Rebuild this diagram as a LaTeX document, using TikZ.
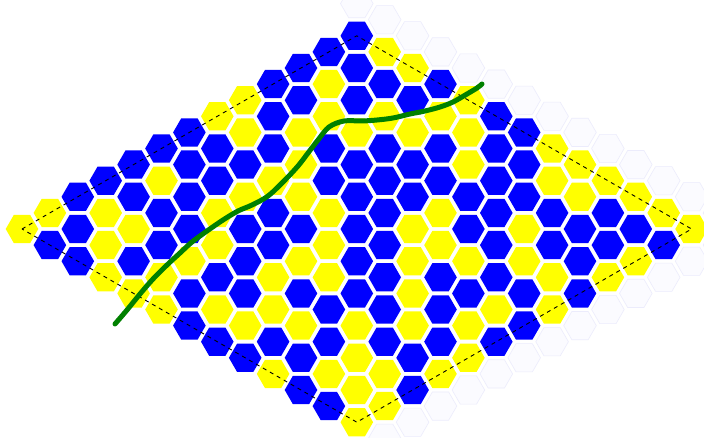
\documentclass[tikz,border=0pt]{standalone}
\usetikzlibrary{shapes.geometric}
\definecolor{Y}{RGB}{255,255,0}
\definecolor{B}{RGB}{0,0,255}
\definecolor{ghostfill}{RGB}{251,251,255}
\definecolor{ghostline}{RGB}{236,236,252}
\definecolor{pathgreen}{RGB}{0,128,0}
\begin{document}
\begin{tikzpicture}[x=1pt,y=-1pt,
  hexcell/.style={regular polygon, regular polygon sides=6, minimum size=32.6pt, inner sep=0pt, draw=none},
  ghostcell/.style={hexcell, fill=ghostfill, draw=ghostline, line width=0.6pt},
  board/.style={black, dash pattern=on 4pt off 4pt, line width=0.9pt},
  route/.style={pathgreen, line width=5pt, line cap=round, line join=round}]
\useasboundingbox (0,0) rectangle (704,438);
\clip (0,0) rectangle (704,438);
\fill[white] (0,0) rectangle (704,438);
% ghost cells beyond the two right-hand edges
\foreach \j in {-1,...,12}{
  \pgfmathsetmacro\gx{22+27.9*(13+\j)}
  \pgfmathsetmacro\gy{229+16.1*(\j-13)}
  \pgfmathsetmacro\hy{229+16.1*(13-\j)}
  \node[ghostcell] (gu\j) at (\gx,\gy) {};
  \node[ghostcell] (gl\j) at (\gx,\hy) {};
}
% board cells, column by column (top to bottom)
\foreach \col [count=\kk from 0] in {{Y},{Y,B},{B,B,B},{B,Y,Y,Y},{B,B,Y,B,Y},{B,Y,B,B,Y,Y},{B,B,B,B,Y,B,B},{Y,B,B,Y,Y,B,Y,B},{Y,Y,B,Y,B,B,B,Y,B},{B,B,B,Y,B,B,Y,Y,B,Y},{B,B,Y,Y,Y,B,Y,B,Y,B,B},{B,Y,Y,B,B,Y,Y,Y,B,B,Y,B},{B,B,B,Y,B,B,B,B,B,Y,Y,Y,Y},{Y,B,Y,B,B,B,B,B,B,B,Y,Y},{Y,B,Y,B,B,Y,Y,Y,Y,B,B},{B,Y,B,B,Y,Y,B,B,B,Y},{Y,Y,Y,B,B,Y,B,Y,Y},{B,B,B,B,B,B,Y,B},{B,B,B,Y,Y,B,B},{Y,Y,B,B,Y,Y},{Y,Y,B,B,B},{Y,B,B,Y},{Y,B,Y},{Y,B},{Y}}{
  \foreach \c [count=\t from 0] in \col {
    \pgfmathsetmacro\m{-min(\kk,24-\kk)+2*\t}
    \pgfmathsetmacro\cx{22+27.9*\kk}
    \pgfmathsetmacro\cy{229+16.1*\m}
    \node[hexcell, fill=\c] (c\kk-\t) at (\cx,\cy) {};
  }
}
% dashed board outline through the corner cells
\draw[board] (c0-0.center) -- (c12-0.center) -- (c24-0.center) -- (c12-12.center) -- cycle;
% winning route
\draw[route] plot[smooth, tension=0.55] coordinates {
  (115,324) (127,310) (140,294) (153,279) (167,265) (180,253) (192,242)
  (207,231) (223,220) (238,211) (252,205) (268,196) (284,181) (298,166)
  (308,153) (318,140) (329,127) (344,121) (362,121) (377,120) (393,118)
  (410,114) (425,111) (440,107) (453,102) (467,94) (477,88) (482,84)};
\end{tikzpicture}
\end{document}
